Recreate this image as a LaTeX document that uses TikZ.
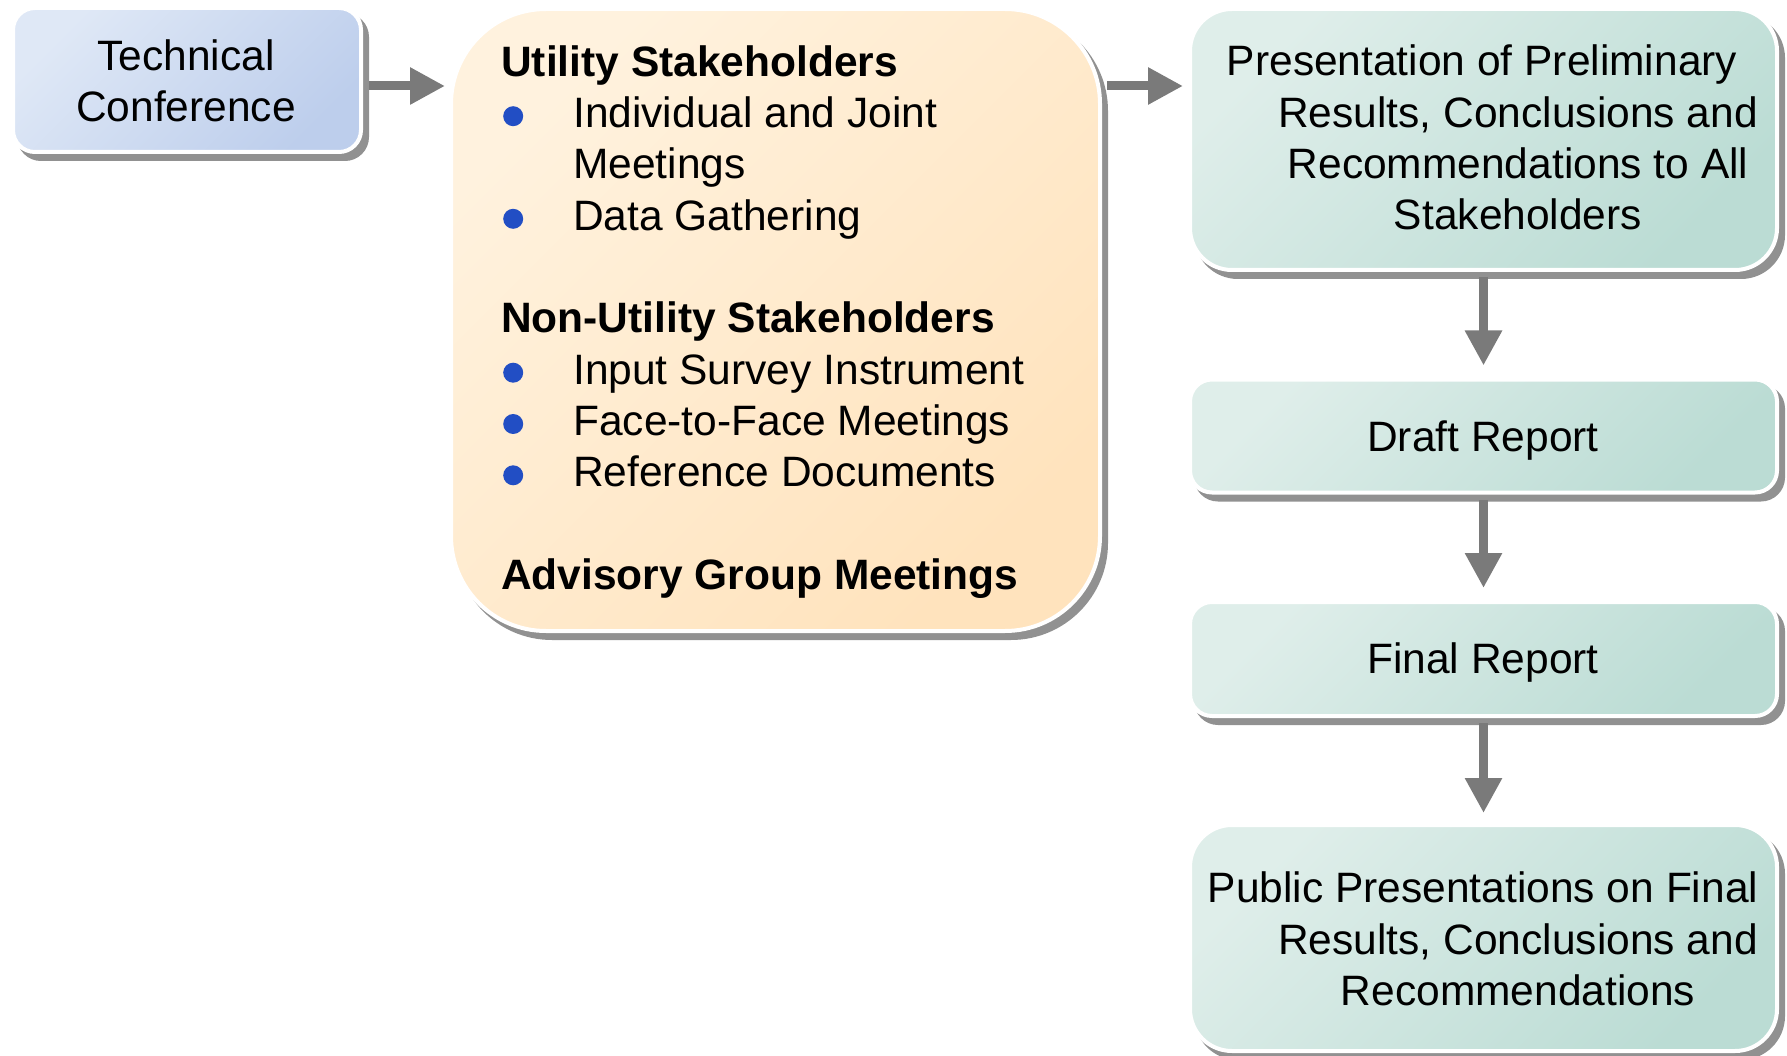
\documentclass[tikz,border=0pt]{standalone}
\usepackage{fontspec}
\setmainfont{Liberation Sans}
\usetikzlibrary{arrows.meta,shadows,calc}
\definecolor{shadowgray}{RGB}{145,145,145}
\definecolor{arrowgray}{RGB}{122,122,122}
\definecolor{bulblue}{RGB}{34,78,196}
\definecolor{techA}{RGB}{223,232,246}
\definecolor{techB}{RGB}{189,206,236}
\definecolor{orA}{RGB}{255,242,222}
\definecolor{orB}{RGB}{255,227,189}
\definecolor{tealA}{RGB}{223,238,234}
\definecolor{tealB}{RGB}{187,220,212}
\newcommand\mybul{\makebox[72pt][l]{\tikz[x=1pt,y=1pt,baseline=0pt]{\path (0,0); \fill[bulblue] (12,11.5) circle[radius=10];}}}
\begin{document}
\begin{tikzpicture}[x=1pt,y=-1pt,
  box/.style={draw=white, line width=4pt, inner sep=0pt, text=black,
     general shadow={shadow xshift=6pt, shadow yshift=-7pt, fill=shadowgray, draw=shadowgray}},
  techbox/.style={box, top color=techA, bottom color=techB, shading angle=45},
  orangebox/.style={box, top color=orA, bottom color=orB, shading angle=45},
  tealbox/.style={box, top color=tealA, bottom color=tealB, shading angle=45},
  conn/.style={draw=arrowgray, line width=9pt, -{Triangle[length=35pt,width=35pt]}},
  txt/.style={inner sep=0pt, font=\fontsize{42.5}{51.3}\selectfont, text=black}]
\useasboundingbox (0,0) rectangle (1787,1056);

% boxes
\node[techbox, rounded corners=22pt, minimum width=348pt, minimum height=144pt] (tech) at (187,80) {};
\node[orangebox, rounded corners=95pt, minimum width=649pt, minimum height=622pt] (orange) at (775.5,320) {};
\node[tealbox, rounded corners=42pt, minimum width=587pt, minimum height=261pt] (p1) at (1483.5,139.5) {};
\node[tealbox, rounded corners=22pt, minimum width=587pt, minimum height=113pt] (draft) at (1483.5,436) {};
\node[tealbox, rounded corners=22pt, minimum width=587pt, minimum height=114pt] (final) at (1483.5,659) {};
\node[tealbox, rounded corners=42pt, minimum width=587pt, minimum height=226pt] (public) at (1483.5,938) {};

% texts
\node[txt, anchor=base] (techtxt) at (186,70.5)
  {\begin{tabular}[t]{@{}c@{}}Technical\\Conference\end{tabular}};
\node[txt, anchor=base west] (orangetxt) at (501,76.4)
  {\begin{tabular}[t]{@{}l@{}}
  \textbf{Utility Stakeholders}\\
  \mybul Individual and Joint\\
  \hspace*{72pt}Meetings\\
  \mybul Data Gathering\\
  \\
  \textbf{Non-Utility Stakeholders}\\
  \mybul Input Survey Instrument\\
  \mybul Face-to-Face Meetings\\
  \mybul Reference Documents\\
  \\
  \textbf{Advisory Group Meetings}
  \end{tabular}};
\node[txt, anchor=base] (p1txt) at (1518,75.8)
  {\begin{tabular}[t]{@{}c@{}}Presentation of Preliminary\rule{72pt}{0pt}\\Results, Conclusions and\\Recommendations to All\\Stakeholders\end{tabular}};
\node[txt, anchor=base] (drafttxt) at (1483,451) {Draft Report};
\node[txt, anchor=base] (finaltxt) at (1483,673.6) {Final Report};
\node[txt, anchor=base] (pubtxt) at (1518,902.7)
  {\begin{tabular}[t]{@{}c@{}}Public Presentations on Final\rule{70pt}{0pt}\\Results, Conclusions and\\Recommendations\end{tabular}};

% connectors
\draw[conn] ($(tech.east)+(6,6)$) -- ($(orange.west|-tech.east)+(-4,6)$);
\draw[conn] ($(orange.east|-tech.east)+(5,6)$) -- ($(p1.west|-tech.east)+(-5,6)$);
\draw[conn] ($(p1.south)+(0,5)$) -- ($(draft.north)+(0,-12)$);
\draw[conn] ($(draft.south)+(0,5)$) -- ($(final.north)+(0,-12)$);
\draw[conn] ($(final.south)+(0,5)$) -- ($(public.north)+(0,-10)$);
\end{tikzpicture}
\end{document}
